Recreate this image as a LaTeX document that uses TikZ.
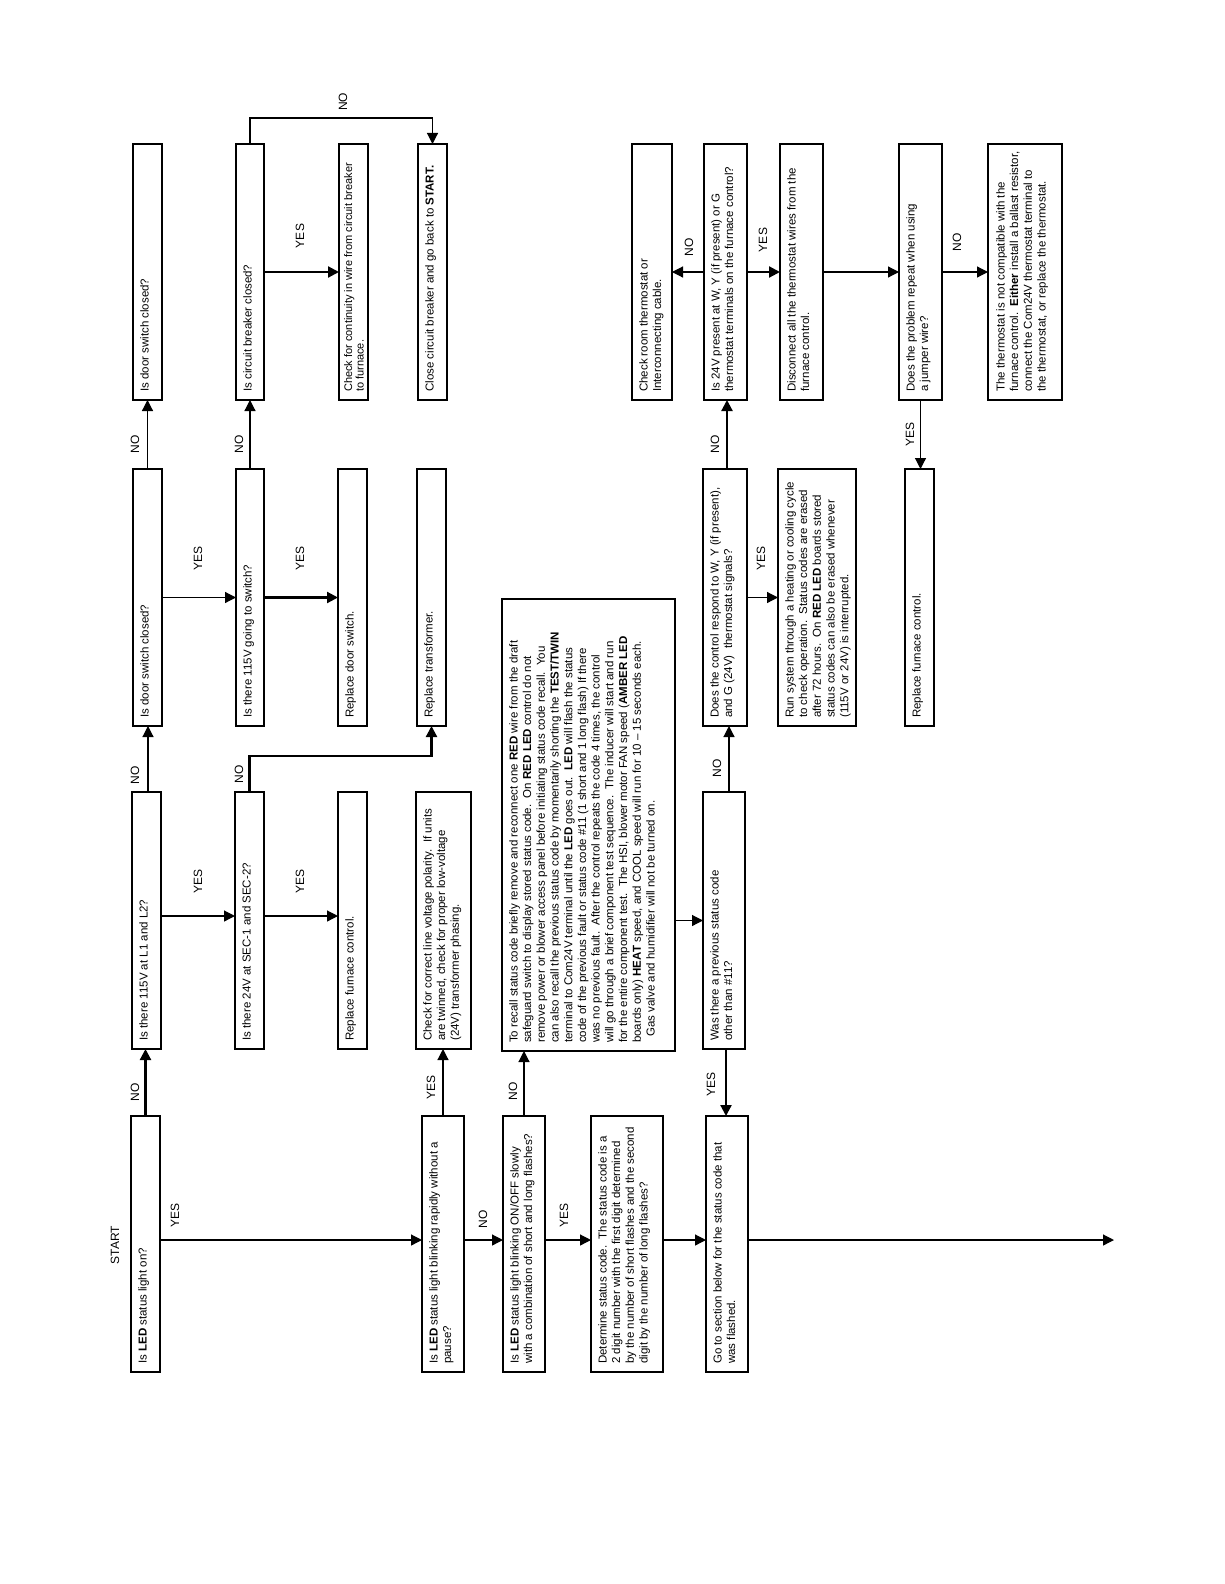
\documentclass[tikz,border=0pt]{standalone}
\usepackage{fontspec}
\setmainfont{Liberation Sans}
\usetikzlibrary{arrows.meta,calc}
\tikzset{
  boxshape/.style={draw, rectangle, line width=1.3pt, inner sep=0pt, outer sep=0pt, anchor=north west},
  boxtext/.style={rotate=90, anchor=north west, align=left, inner sep=0pt, font=\fontsize{11.5}{13.7}\selectfont},
  lab/.style={rotate=90, inner sep=0pt, font=\fontsize{12}{13.7}\selectfont},
  arr/.style={line width=1.2pt, -{Triangle[length=11pt,width=11pt]}},
  arrthick/.style={line width=2.2pt, -{Triangle[length=11pt,width=11pt]}},
  plainline/.style={line width=1.2pt}
}
\newcommand{\flowbox}[6]{%
  \node[boxshape, minimum width={#4-#2}, minimum height={#5-#3}] (#1) at (#2,#3) {};
  \node[boxtext] (#1t) at (#2+7,#5-8) {#6};
}
\begin{document}
\begin{tikzpicture}[x=1pt, y=-1pt]
\useasboundingbox (0,0) rectangle (1224,1584);

% column A
\flowbox{A1}{133}{144}{162}{400}{Is door switch closed?}
\flowbox{A2}{133}{469}{162}{726}{Is door switch closed?}
\flowbox{A3}{132}{792}{161}{1049}{Is there 115V at L1 and L2?}
\flowbox{A4}{131}{1116}{160}{1372}{Is \textbf{LED} status light on?}
% column B
\flowbox{B1}{236}{144}{264}{400}{Is circuit breaker closed?}
\flowbox{B2}{236}{469}{264}{726}{Is there 115V going to switch?}
\flowbox{B3}{235}{792}{264}{1049}{Is there 24V at SEC-1 and SEC-2?}
% column C
\node[boxshape, minimum width=29, minimum height=256] (C1) at (339,144) {};
\node[boxtext, font=\fontsize{11}{11.5}\selectfont] (C1t) at (344,392) {Check for continuity in wire from circuit breaker\\to furnace.};
\flowbox{C2}{338}{469}{367}{726}{Replace door switch.}
\flowbox{C3}{338}{792}{367}{1049}{Replace furnace control.}
% column D
\flowbox{D1}{418}{144}{447}{400}{Close circuit breaker and go back to \textbf{START.}}
\flowbox{D2}{417}{469}{446}{726}{Replace transformer.}
\flowbox{D3}{416}{792}{471}{1049}{Check for correct line voltage polarity.\ \ If units\\are twinned, check for proper low-voltage\\(24V) transformer phasing.}
\flowbox{D4}{422}{1116}{464}{1372}{Is \textbf{LED} status light blinking rapidly without a\\pause?}
% column E/F
\flowbox{E4}{503}{1116}{545}{1372}{Is \textbf{LED} status light blinking ON/OFF slowly\\with a combination of short and long flashes?}
\flowbox{big}{502}{599}{675}{1051}{To recall status code briefly remove and reconnect one \textbf{RED} wire from the draft\\safeguard switch to display stored status code.\ \ On \textbf{RED LED} control do not\\remove power or blower access panel before initiating status code recall.\ \ You\\can also recall the previous status code by momentarily shorting the \textbf{TEST/TWIN}\\terminal to Com24V terminal until the \textbf{LED} goes out.\ \ \textbf{LED} will flash the status\\code of the previous fault or status code \#11 (1 short and 1 long flash) If there\\was no previous fault.\ \ After the control repeats the code 4 times, the control\\will go through a brief component test sequence.\ \ The inducer will start and run\\for the entire component test.\ \ The HSI, blower motor FAN speed (\textbf{AMBER LED}\\boards only) \textbf{HEAT} speed, and COOL speed will run for 10 -- 15 seconds each.\\\ \ Gas valve and humidifier will not be turned on.}
\flowbox{F4}{591}{1116}{663}{1372}{Determine status code.\ \ The status code is a\\2 digit number with the first digit determined\\by the number of short flashes and the second\\digit by the number of long flashes?}
% column G
\flowbox{Chk}{632}{144}{672}{400}{Check room thermostat or\\Interconnecting cable.}
\flowbox{G1}{704}{144}{747}{400}{Is 24V present at W, Y (if present) or G\\thermostat terminals on the furnace control?}
\flowbox{G2}{703}{469}{747}{726}{Does the control respond to W, Y (if present),\\and G (24V)\ \ thermostat signals?}
\flowbox{G3}{703}{792}{745}{1049}{Was there a previous status code\\other than \#11?}
\flowbox{G4}{706}{1116}{748}{1372}{Go to section below for the status code that\\was flashed.}
\flowbox{Disc}{780}{144}{823}{400}{Disconnect all the thermostat wires from the\\furnace control.}
\flowbox{Run}{778}{469}{856}{726}{Run system through a heating or cooling cycle\\to check operation.\ \ Status codes are erased\\after 72 hours.\ \ On \textbf{RED LED} boards stored\\status codes can also be erased whenever\\(115V or 24V) is interrupted.}
\flowbox{Prob}{899}{144}{942}{400}{Does the problem repeat when using\\a jumper wire?}
\flowbox{Rep2}{905}{469}{934}{726}{Replace furnace control.}
\node[boxshape, minimum width=74, minimum height=256] (Therm) at (988,144) {};
\node[boxtext] (Thermt) at (996,392) {The thermostat is not compatible with the\\furnace control.\ \ \textbf{Either} install a ballast resistor,\\connect the Com24V thermostat terminal to\\the thermostat, or replace the thermostat.};

% helper coordinates
\coordinate (Y4) at (0,1240);
\coordinate (Y3) at (0,916);
\coordinate (K1) at (0,118);
\coordinate (K2) at (0,756);
\coordinate (End) at (1114,1240);

% START
\node[lab] (start) at (115,1245) {START};

% connectors
\draw[arr] (A4.east |- Y4) -- (D4.west |- Y4);
\draw[arrthick] (A4.north) -- (A4.north |- A3.south);
\draw[arr] ([xshift=1.5pt]A3.north) -- ([xshift=1.5pt]A3.north |- A2.south);
\draw[arr] (A3.east |- Y3) -- (B3.west |- Y3);
\draw[arr] (B3.east |- Y3) -- (C3.west |- Y3);
\draw[arrthick] (B3.north) -- (B3.north |- K2) -| (D2.south);
\draw[arr] (A2.east) -- (B2.west);
\draw[arrthick] (B2.east) -- (C2.west);
\draw[arr] (A2.north) -- (A2.north |- A1.south);
\draw[arr] (B2.north) -- (B2.north |- B1.south);
\draw[arrthick] (B1.east) -- (C1.west);
\draw[arr] (B1.north) -- (B1.north |- K1) -| (D1.north);
\draw[arr] (D4.east |- Y4) -- (E4.west |- Y4);
\draw[arr] (D4.north) -- (D4.north |- D3.south);
\draw[arr] (E4.east |- Y4) -- (F4.west |- Y4);
\draw[arr] (E4.north) -- (E4.north |- big.south);
\draw[arr] (F4.east |- Y4) -- (G4.west |- Y4);
\draw[arr] (G4.east |- Y4) -- (End);
\draw[arr] (big.east |- G3.west) -- (G3.west);
\draw[arrthick] ([xshift=2pt]G3.south) -- ([xshift=2pt]G3.south |- G4.north);
\draw[arr] ([xshift=5pt]G3.north) -- ([xshift=5pt]G3.north |- G2.south);
\draw[arr] (G2.east) -- (Run.west);
\draw[arrthick] ([xshift=2pt]G2.north) -- ([xshift=2pt]G2.north |- G1.south);
\draw[arr] (G1.west) -- (Chk.east);
\draw[arrthick] (G1.east) -- (Disc.west);
\draw[arr] (Disc.east) -- (Prob.west);
\draw[arr] (Prob.east) -- (Therm.west);
\draw[arr] (Prob.south) -- (Prob.south |- Rep2.north);

% labels
\node[lab] (l1) at (175,1215) {YES};
\node[lab] (l2) at (135,1092) {NO};
\node[lab] (l3) at (135,775) {NO};
\node[lab] (l4) at (198,881) {YES};
\node[lab] (l5) at (300,881) {YES};
\node[lab] (l6) at (239,774) {NO};
\node[lab] (l7) at (198,558) {YES};
\node[lab] (l8) at (300,558) {YES};
\node[lab] (l9) at (135,444) {NO};
\node[lab] (l10) at (239,444) {NO};
\node[lab] (l11) at (300,236) {YES};
\node[lab] (l12) at (343,102) {NO};
\node[lab] (l13) at (483,1219) {NO};
\node[lab] (l14) at (431,1087) {YES};
\node[lab] (l15) at (513,1091) {NO};
\node[lab] (l16) at (564,1215) {YES};
\node[lab] (l17) at (711,1084) {YES};
\node[lab] (l18) at (717,768) {NO};
\node[lab] (l19) at (761,558) {YES};
\node[lab] (l20) at (715,444) {NO};
\node[lab] (l21) at (689,247) {NO};
\node[lab] (l22) at (763,240) {YES};
\node[lab] (l23) at (957,242) {NO};
\node[lab] (l24) at (910,434) {YES};
\end{tikzpicture}
\end{document}
